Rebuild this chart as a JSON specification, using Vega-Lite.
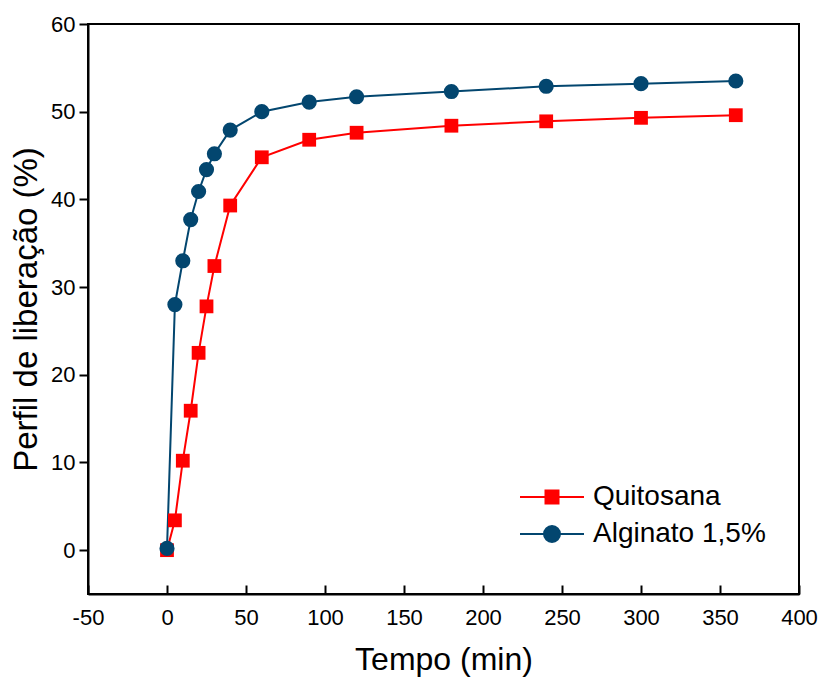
{
  "$schema": "https://vega.github.io/schema/vega-lite/v6.json",
  "width": 711,
  "height": 570,
  "autosize": {"type": "none"},
  "padding": {"left": 88, "top": 24, "right": 22, "bottom": 85},
  "background": "white",
  "config": {
    "font": "Liberation Sans",
    "view": {"stroke": "black", "strokeWidth": 2},
    "axis": {"grid": false, "domainColor": "black", "domainWidth": 2, "tickColor": "black", "tickWidth": 2, "labelColor": "black", "titleColor": "black", "labelFontSize": 22, "titleFontSize": 32, "titleFontWeight": "normal", "labelFont": "Liberation Sans", "titleFont": "Liberation Sans"}
  },
  "data": {"values": [
    {"t": 0, "v": 0, "s": "Quitosana"},
    {"t": 5, "v": 3.4, "s": "Quitosana"},
    {"t": 10, "v": 10.2, "s": "Quitosana"},
    {"t": 15, "v": 15.9, "s": "Quitosana"},
    {"t": 20, "v": 22.5, "s": "Quitosana"},
    {"t": 25, "v": 27.8, "s": "Quitosana"},
    {"t": 30, "v": 32.4, "s": "Quitosana"},
    {"t": 40, "v": 39.3, "s": "Quitosana"},
    {"t": 60, "v": 44.8, "s": "Quitosana"},
    {"t": 90, "v": 46.8, "s": "Quitosana"},
    {"t": 120, "v": 47.6, "s": "Quitosana"},
    {"t": 180, "v": 48.4, "s": "Quitosana"},
    {"t": 240, "v": 48.9, "s": "Quitosana"},
    {"t": 300, "v": 49.3, "s": "Quitosana"},
    {"t": 360, "v": 49.6, "s": "Quitosana"},
    {"t": 0, "v": 0.2, "s": "Alginato 1,5%"},
    {"t": 5, "v": 28.0, "s": "Alginato 1,5%"},
    {"t": 10, "v": 33.0, "s": "Alginato 1,5%"},
    {"t": 15, "v": 37.7, "s": "Alginato 1,5%"},
    {"t": 20, "v": 40.9, "s": "Alginato 1,5%"},
    {"t": 25, "v": 43.4, "s": "Alginato 1,5%"},
    {"t": 30, "v": 45.2, "s": "Alginato 1,5%"},
    {"t": 40, "v": 47.9, "s": "Alginato 1,5%"},
    {"t": 60, "v": 50.0, "s": "Alginato 1,5%"},
    {"t": 90, "v": 51.1, "s": "Alginato 1,5%"},
    {"t": 120, "v": 51.7, "s": "Alginato 1,5%"},
    {"t": 180, "v": 52.3, "s": "Alginato 1,5%"},
    {"t": 240, "v": 52.9, "s": "Alginato 1,5%"},
    {"t": 300, "v": 53.2, "s": "Alginato 1,5%"},
    {"t": 360, "v": 53.5, "s": "Alginato 1,5%"}
  ]},
  "encoding": {
    "x": {"field": "t", "type": "quantitative", "scale": {"domain": [-50, 400], "nice": false, "zero": false},
      "axis": {"title": "Tempo (min)", "values": [-50, 0, 50, 100, 150, 200, 250, 300, 350, 400], "labelExpr": "datum.value < 0 ? '-' + abs(datum.value) : '' + datum.value", "tickSize": -9, "labelPadding": 22, "titlePadding": 16, "labelFlush": false}},
    "y": {"field": "v", "type": "quantitative", "scale": {"domain": [-5, 60], "nice": false, "zero": false},
      "axis": {"title": "Perfil de liberação (%)", "titleFontSize": 33, "values": [0, 10, 20, 30, 40, 50, 60], "tickSize": 9, "labelPadding": 4, "titlePadding": 7, "labelFlush": false}},
    "color": {"field": "s", "type": "nominal", "sort": ["Quitosana", "Alginato 1,5%"],
      "scale": {"domain": ["Quitosana", "Alginato 1,5%"], "range": ["#FF0000", "#03466F"]},
      "legend": {"title": null, "orient": "none", "legendX": 450, "legendY": 459, "labelFontSize": 28, "labelLimit": 0, "labelColor": "black", "labelFont": "Liberation Sans", "symbolSize": 400, "symbolStrokeWidth": 2, "rowPadding": 9, "labelOffset": 27,
        "encode": {"symbols": {"update": {"shape": {"signal": "datum.value == 'Quitosana' ? 'M-3.2,0H3.2M-0.65,-0.65H0.65V0.65H-0.65Z' : 'M-3.2,0H3.2M0.8,0A0.8,0.8,0,1,1,-0.8,0A0.8,0.8,0,1,1,0.8,0'"}}}}}
    }
  },
  "layer": [
    {"mark": {"type": "line", "strokeWidth": 2}},
    {"transform": [{"filter": "datum.s == 'Quitosana'"}],
     "mark": {"type": "point", "shape": "square", "filled": true, "opacity": 1, "size": 190}},
    {"transform": [{"filter": "datum.s == 'Alginato 1,5%'"}],
     "mark": {"type": "point", "shape": "circle", "filled": true, "opacity": 1, "size": 230}}
  ]
}
